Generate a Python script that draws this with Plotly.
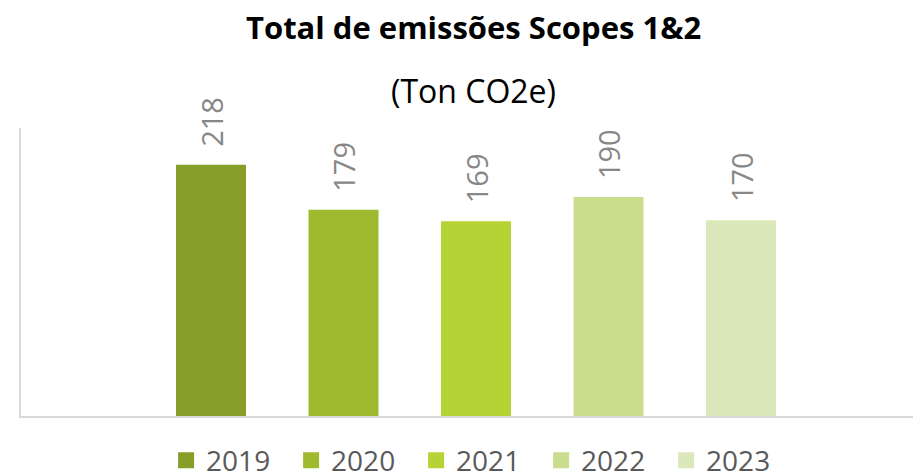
import plotly.graph_objects as go

years = ["2019", "2020", "2021", "2022", "2023"]
values = [218, 179, 169, 190, 170]
colors = ["#879E29", "#A0BA2F", "#B5D334", "#C9DD8D", "#DBE8BA"]

title_text = "<b>Total de emissões Scopes 1&2</b>"
subtitle_text = "(Ton CO2e)"

FONT = "Open Sans"

fig = go.Figure()
for yr, v, c in zip(years, values, colors):
    fig.add_trace(go.Bar(
        x=[yr], y=[v], name=yr, legendgroup=yr, showlegend=False,
        marker=dict(color=c, line=dict(width=0)),
        width=0.528,
        texttemplate="\u00a0\u00a0%{y}",
        textposition="outside",
        textangle=-90,
        constraintext="none",
        cliponaxis=False,
        textfont=dict(family=FONT, size=29, color="#878787"),
        hoverinfo="skip",
    ))
# legend entries (square swatches)
for yr, c in zip(years, colors):
    fig.add_trace(go.Scatter(
        x=[None], y=[None], name=yr, legendgroup=yr, mode="markers",
        marker=dict(symbol="square", size=16, color=c),
        showlegend=True, hoverinfo="skip",
    ))

fig.update_layout(
    width=913, height=474,
    margin=dict(l=21, r=0, t=128, b=58, autoexpand=False),
    paper_bgcolor="white", plot_bgcolor="white",
    barmode="overlay",
    showlegend=True,
    legend=dict(
        orientation="h", x=0.513, xanchor="center", y=-0.155, yanchor="middle",
        font=dict(family=FONT, size=28, color="#595959"),
        entrywidth=80, entrywidthmode="pixels",
        itemclick=False, itemdoubleclick=False,
    ),
    xaxis=dict(
        type="category", range=[-1.434, 5.298],
        showline=True, linecolor="#D9D9D9", linewidth=1.5,
        showticklabels=False, ticks="", showgrid=False, zeroline=False,
    ),
    yaxis=dict(
        range=[0, 250],
        showline=True, linecolor="#D9D9D9", linewidth=1.5,
        showticklabels=False, ticks="", showgrid=False, zeroline=False,
    ),
    annotations=[
        dict(text=title_text, xref="paper", yref="paper", x=0.507, y=1.3507,
             xanchor="center", yanchor="middle", showarrow=False,
             font=dict(family=FONT, size=31, color="#000000")),
        dict(text=subtitle_text, xref="paper", yref="paper", x=0.507, y=1.1319,
             xanchor="center", yanchor="middle", showarrow=False,
             font=dict(family=FONT, size=32, color="#000000")),
    ],
)

fig.write_html(
    "out.html",
    config={"displayModeBar": False},
    post_script="document.body.style.margin='0';document.body.style.overflow='hidden';",
)
